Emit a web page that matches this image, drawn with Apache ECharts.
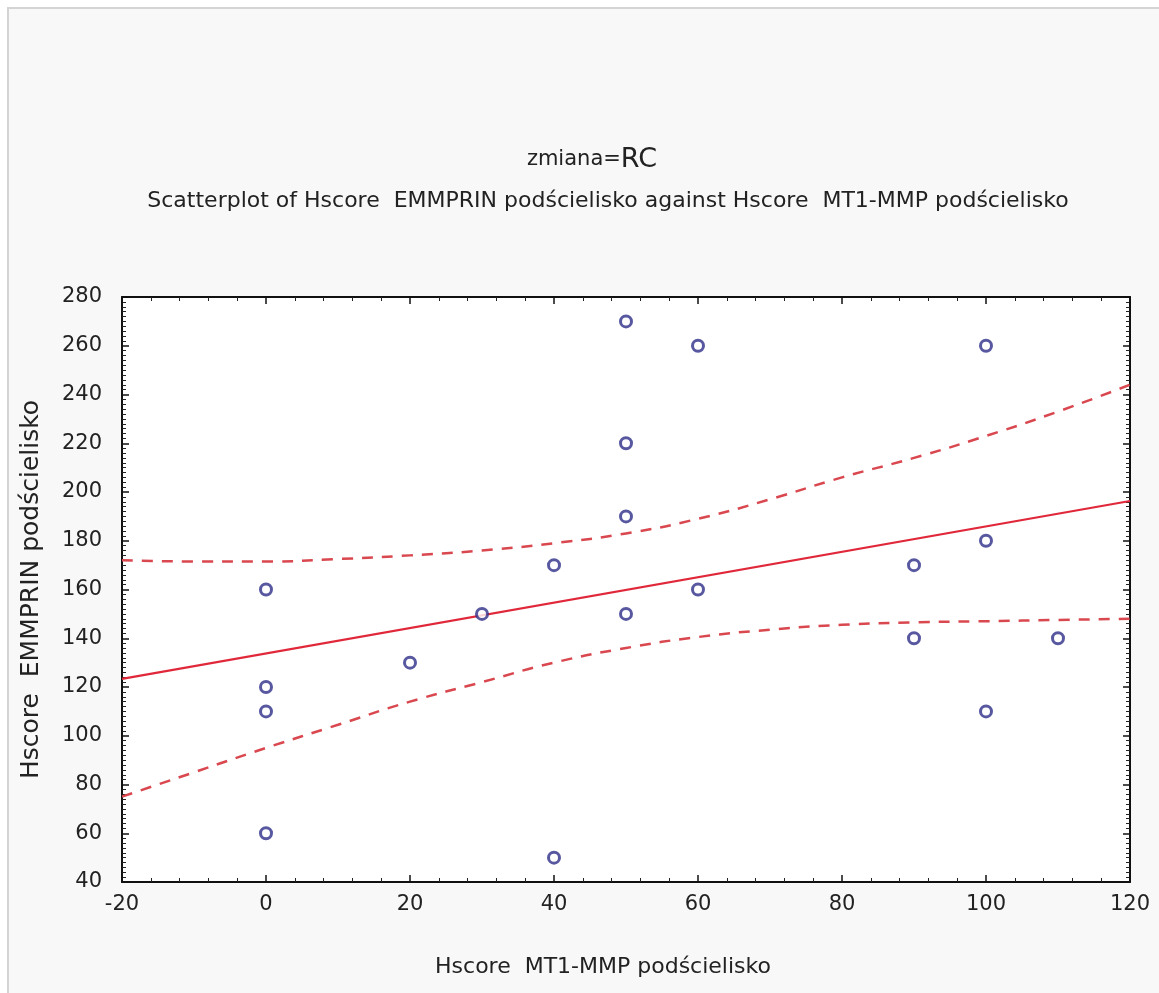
<!DOCTYPE html>
<html>
<head>
<meta charset="utf-8">
<script src="https://cdn.jsdelivr.net/npm/echarts@6/dist/echarts.min.js"></script>
<style>
html,body{margin:0;padding:0;background:#fff;}
#chart{width:1159px;height:993px;}
</style>
</head>
<body>
<div id="chart"></div>
<script>
// Data
const xValues = [0, 0, 0, 0, 20, 30, 40, 40, 50, 50, 50, 50, 60, 60, 90, 90, 100, 100, 100, 110];
const yValues = [160, 120, 110, 60, 130, 150, 170, 50, 270, 220, 190, 150, 260, 160, 170, 140, 260, 180, 110, 140];
const fitX = [-20, 120];
const fitY = [123.3, 196.3];
const bandX = [-20, -10, 0, 10, 20, 30, 40, 50, 60, 70, 80, 90, 100, 110, 120];
const upperY = [172, 171.5, 171.5, 172.5, 174, 176, 179, 183, 189, 197, 206, 214, 223, 233, 244];
const lowerY = [75, 85, 95, 104.5, 114, 122, 130, 136, 140.5, 143.5, 145.5, 146.5, 147, 147.5, 148];
const xTicks = [-20, 0, 20, 40, 60, 80, 100, 120];
const yTicks = [40, 60, 80, 100, 120, 140, 160, 180, 200, 220, 240, 260, 280];
const titleTop = 'zmiana=';
const titleGroup = 'RC';
const subtitle = 'Scatterplot of Hscore  EMMPRIN podścielisko against Hscore  MT1-MMP podścielisko';
const xName = 'Hscore  MT1-MMP podścielisko';
const yName = 'Hscore  EMMPRIN podścielisko';

const zip = (a, b) => a.map((v, i) => [v, b[i]]);
const FONT = 'DejaVu Sans';

const chart = echarts.init(document.getElementById('chart'));

const axisCommon = {
  type: 'value',
  axisLine: { show: true, onZero: false, lineStyle: { color: '#111', width: 2 } },
  axisTick: { show: true, inside: true, length: 7, lineStyle: { color: '#111', width: 1.5 } },
  minorTick: { show: true, length: 4, lineStyle: { color: '#222', width: 1 } },
  splitLine: { show: false }
};

chart.setOption({
  animation: false,
  backgroundColor: '#ffffff',
  graphic: [
    { type: 'rect', z: -10, shape: { x: 8, y: 8, width: 1300, height: 1200 },
      style: { fill: '#f8f8f8', stroke: '#d4d4d4', lineWidth: 2 } }
  ],
  title: [
    { text: '{a|' + titleTop + '}{b|' + titleGroup + '}', left: 587, top: 141, textAlign: 'center',
      textStyle: { rich: {
        a: { fontFamily: FONT, fontSize: 21, fontWeight: 'normal', color: '#222' },
        b: { fontFamily: FONT, fontSize: 27, fontWeight: 'normal', color: '#222' } } } },
    { text: subtitle, left: 603, top: 185, textAlign: 'center',
      textStyle: { fontFamily: FONT, fontSize: 22, fontWeight: 'normal', color: '#222' } }
  ],
  grid: { left: 122, right: 29, top: 297, bottom: 111, show: true, backgroundColor: '#ffffff', borderWidth: 0 },
  xAxis: [
    Object.assign({}, axisCommon, {
      min: xTicks[0], max: xTicks[xTicks.length - 1], interval: 20, position: 'bottom',
      minorTick: Object.assign({}, axisCommon.minorTick, { splitNumber: 5 }),
      axisLabel: { fontFamily: FONT, fontSize: 21, color: '#222', margin: 12 },
      name: xName, nameLocation: 'middle', nameGap: 74,
      nameTextStyle: { fontFamily: FONT, fontSize: 22, color: '#222', padding: [0, 46, 0, 0] }
    }),
    Object.assign({}, axisCommon, {
      min: xTicks[0], max: xTicks[xTicks.length - 1], interval: 20, position: 'top',
      minorTick: Object.assign({}, axisCommon.minorTick, { splitNumber: 5 }),
      axisLabel: { show: false }
    })
  ],
  yAxis: [
    Object.assign({}, axisCommon, {
      min: yTicks[0], max: yTicks[yTicks.length - 1], interval: 20, position: 'left',
      minorTick: Object.assign({}, axisCommon.minorTick, { splitNumber: 10 }),
      axisLabel: { fontFamily: FONT, fontSize: 21, color: '#222', margin: 20 },
      name: yName, nameLocation: 'middle', nameGap: 78, nameRotate: 90,
      nameTextStyle: { fontFamily: FONT, fontSize: 25, color: '#222' }
    }),
    Object.assign({}, axisCommon, {
      min: yTicks[0], max: yTicks[yTicks.length - 1], interval: 20, position: 'right',
      minorTick: Object.assign({}, axisCommon.minorTick, { splitNumber: 10 }),
      axisLabel: { show: false }
    })
  ],
  series: [
    { type: 'line', data: zip(bandX, upperY), smooth: true, symbol: 'none', z: 2,
      lineStyle: { color: '#d9474f', width: 2.5, type: [11, 9] } },
    { type: 'line', data: zip(bandX, lowerY), smooth: true, symbol: 'none', z: 2,
      lineStyle: { color: '#d9474f', width: 2.5, type: [11, 9] } },
    { type: 'line', data: zip(fitX, fitY), symbol: 'none', z: 3,
      lineStyle: { color: '#e0283a', width: 2.2 } },
    { type: 'scatter', data: zip(xValues, yValues), symbol: 'circle', symbolSize: 11, z: 4,
      itemStyle: { color: '#ffffff', borderColor: '#2e2e88', borderWidth: 3 } }
  ]
});
</script>
</body>
</html>
